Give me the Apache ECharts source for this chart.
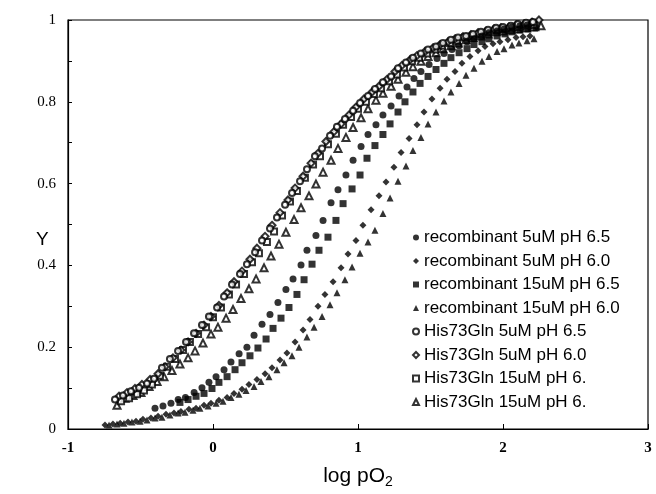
<!DOCTYPE html>
<html>
<head>
<meta charset="utf-8">
<script src="https://cdn.jsdelivr.net/npm/echarts@6/dist/echarts.min.js"></script>
<style>html,body{margin:0;padding:0;background:#fff}#c{width:656px;height:494px}</style>
</head>
<body>
<div id="c"></div>
<script>
// x: log pO2, y: Y (fractional saturation)
const xTicks = [-1, 0, 1, 2, 3];
const yTicks = [0, 0.2, 0.4, 0.6, 0.8, 1];
const seriesNames = [
  'recombinant 5uM pH 6.5',
  'recombinant 5uM pH 6.0',
  'recombinant 15uM pH 6.5',
  'recombinant 15uM pH 6.0',
  'His73Gln 5uM pH 6.5',
  'His73Gln 5uM pH 6.0',
  'His73Gln 15uM pH 6.',
  'His73Gln 15uM pH 6.'
];

const rec5_65 = [[-0.40,0.051],[-0.345,0.056],[-0.29,0.063],[-0.24,0.072],[-0.19,0.077],[-0.13,0.089],[-0.076,0.101],[-0.028,0.114],[0.021,0.128],[0.076,0.145],[0.124,0.164],[0.18,0.184],[0.234,0.200],[0.283,0.229],[0.338,0.256],[0.393,0.280],[0.448,0.309],[0.503,0.341],[0.552,0.367],[0.607,0.401],[0.648,0.437],[0.71,0.473],[0.759,0.510],[0.814,0.553],[0.862,0.585],[0.917,0.621],[0.966,0.657],[1.021,0.691],[1.069,0.720],[1.124,0.744],[1.172,0.768],[1.228,0.790],[1.283,0.814],[1.338,0.836],[1.386,0.857],[1.434,0.874],[1.49,0.891],[1.545,0.906],[1.593,0.918],[1.648,0.928],[1.697,0.937],[1.752,0.947],[1.80,0.954],[1.855,0.961],[1.903,0.969],[1.959,0.973],[2.007,0.978],[2.062,0.983],[2.117,0.986],[2.166,0.988]];

const rec5_60 = [[-0.745,0.010],[-0.69,0.012],[-0.64,0.014],[-0.586,0.017],[-0.531,0.019],[-0.483,0.024],[-0.428,0.027],[-0.379,0.031],[-0.324,0.036],[-0.269,0.039],[-0.221,0.043],[-0.166,0.048],[-0.117,0.051],[-0.062,0.058],[-0.014,0.063],[0.041,0.070],[0.097,0.077],[0.145,0.087],[0.2,0.097],[0.248,0.109],[0.303,0.121],[0.359,0.135],[0.407,0.150],[0.462,0.169],[0.510,0.186],[0.566,0.213],[0.621,0.242],[0.669,0.268],[0.724,0.300],[0.772,0.329],[0.828,0.360],[0.883,0.394],[0.931,0.428],[0.986,0.461],[1.034,0.498],[1.090,0.536],[1.145,0.570],[1.193,0.604],[1.248,0.640],[1.297,0.676],[1.352,0.710],[1.407,0.744],[1.455,0.775],[1.510,0.807],[1.566,0.833],[1.614,0.855],[1.669,0.874],[1.717,0.894],[1.772,0.911],[1.828,0.925],[1.876,0.935],[1.931,0.942],[1.979,0.947],[2.034,0.952],[2.090,0.957],[2.138,0.959],[2.186,0.961]];

const rec15_65 = [[-0.228,0.065],[-0.172,0.072],[-0.117,0.080],[-0.062,0.087],[-0.007,0.099],[0.041,0.114],[0.097,0.128],[0.152,0.145],[0.2,0.162],[0.255,0.179],[0.31,0.198],[0.366,0.220],[0.414,0.246],[0.469,0.271],[0.524,0.297],[0.579,0.329],[0.628,0.365],[0.683,0.403],[0.731,0.437],[0.793,0.469],[0.848,0.510],[0.897,0.551],[0.959,0.587],[1.014,0.621],[1.062,0.662],[1.117,0.693],[1.172,0.720],[1.221,0.746],[1.276,0.775],[1.324,0.800],[1.379,0.824],[1.428,0.845],[1.483,0.862],[1.538,0.879],[1.593,0.894],[1.641,0.908],[1.697,0.920],[1.752,0.930],[1.8,0.940],[1.855,0.947],[1.903,0.954],[1.959,0.961],[2.014,0.966],[2.062,0.971],[2.117,0.976],[2.172,0.978],[2.228,0.981]];

const rec15_60 = [[-0.717,0.010],[-0.662,0.012],[-0.614,0.014],[-0.559,0.017],[-0.503,0.019],[-0.455,0.022],[-0.4,0.027],[-0.352,0.029],[-0.297,0.034],[-0.241,0.039],[-0.193,0.041],[-0.138,0.046],[-0.09,0.051],[-0.034,0.056],[0.021,0.063],[0.069,0.068],[0.124,0.077],[0.179,0.085],[0.228,0.094],[0.283,0.104],[0.331,0.116],[0.386,0.128],[0.441,0.145],[0.490,0.162],[0.545,0.179],[0.593,0.200],[0.648,0.225],[0.697,0.249],[0.752,0.275],[0.807,0.304],[0.855,0.333],[0.910,0.365],[0.959,0.396],[1.014,0.430],[1.069,0.457],[1.117,0.486],[1.172,0.527],[1.221,0.565],[1.276,0.606],[1.331,0.643],[1.379,0.681],[1.434,0.713],[1.483,0.746],[1.538,0.775],[1.593,0.802],[1.641,0.824],[1.697,0.845],[1.745,0.865],[1.800,0.882],[1.855,0.899],[1.903,0.911],[1.959,0.923],[2.007,0.930],[2.062,0.939],[2.110,0.944],[2.166,0.949],[2.214,0.954]];

const his5_65 = [[-0.676,0.072],[-0.621,0.082],[-0.566,0.092],[-0.510,0.101],[-0.455,0.111],[-0.407,0.123],[-0.352,0.150],[-0.297,0.171],[-0.241,0.191],[-0.186,0.213],[-0.131,0.234],[-0.076,0.254],[-0.028,0.275],[0.028,0.297],[0.076,0.324],[0.131,0.353],[0.186,0.379],[0.234,0.403],[0.290,0.432],[0.338,0.461],[0.393,0.490],[0.441,0.517],[0.497,0.548],[0.545,0.577],[0.600,0.606],[0.648,0.635],[0.703,0.667],[0.752,0.686],[0.807,0.717],[0.855,0.739],[0.910,0.758],[0.966,0.778],[1.014,0.797],[1.069,0.814],[1.117,0.831],[1.172,0.848],[1.228,0.862],[1.276,0.882],[1.331,0.896],[1.379,0.908],[1.434,0.918],[1.483,0.928],[1.538,0.935],[1.586,0.944],[1.641,0.952],[1.690,0.957],[1.745,0.961],[1.793,0.966],[1.848,0.971],[1.897,0.976],[1.952,0.981],[2.000,0.983],[2.055,0.986],[2.103,0.990],[2.159,0.993],[2.207,0.995]];

const his5_60 = [[-0.648,0.080],[-0.593,0.089],[-0.538,0.099],[-0.490,0.109],[-0.434,0.121],[-0.379,0.135],[-0.331,0.152],[-0.276,0.174],[-0.221,0.193],[-0.172,0.213],[-0.117,0.234],[-0.062,0.254],[-0.014,0.275],[0.041,0.302],[0.097,0.333],[0.145,0.360],[0.200,0.386],[0.255,0.415],[0.303,0.442],[0.359,0.471],[0.407,0.498],[0.462,0.529],[0.517,0.560],[0.566,0.589],[0.621,0.618],[0.676,0.650],[0.724,0.674],[0.779,0.703],[0.834,0.727],[0.883,0.746],[0.938,0.768],[0.986,0.787],[1.041,0.807],[1.097,0.824],[1.145,0.838],[1.200,0.855],[1.255,0.874],[1.303,0.889],[1.359,0.903],[1.407,0.913],[1.462,0.923],[1.517,0.932],[1.566,0.940],[1.621,0.947],[1.669,0.954],[1.724,0.959],[1.779,0.964],[1.828,0.969],[1.883,0.973],[1.938,0.978],[1.986,0.981],[2.041,0.983],[2.090,0.988],[2.145,0.990],[2.200,0.995],[2.248,1.000]];

const his15_a = [[-0.634,0.068],[-0.579,0.075],[-0.524,0.085],[-0.476,0.094],[-0.421,0.109],[-0.366,0.130],[-0.317,0.152],[-0.262,0.171],[-0.207,0.193],[-0.159,0.213],[-0.103,0.232],[-0.048,0.249],[0.000,0.273],[0.055,0.297],[0.110,0.329],[0.159,0.353],[0.214,0.379],[0.269,0.408],[0.317,0.430],[0.372,0.457],[0.421,0.483],[0.476,0.522],[0.531,0.556],[0.579,0.582],[0.634,0.614],[0.690,0.647],[0.738,0.667],[0.793,0.696],[0.848,0.722],[0.897,0.744],[0.952,0.763],[1.000,0.783],[1.055,0.800],[1.110,0.819],[1.159,0.833],[1.214,0.850],[1.269,0.867],[1.317,0.884],[1.372,0.899],[1.421,0.908],[1.476,0.918],[1.531,0.928],[1.579,0.937],[1.634,0.944],[1.683,0.949],[1.738,0.957],[1.793,0.961],[1.841,0.966],[1.897,0.971],[1.952,0.976],[2.000,0.978],[2.055,0.981],[2.103,0.983],[2.159,0.986],[2.214,0.988]];

const his15_b = [[-0.662,0.058],[-0.607,0.075],[-0.552,0.082],[-0.497,0.089],[-0.441,0.104],[-0.386,0.116],[-0.338,0.128],[-0.283,0.143],[-0.228,0.159],[-0.172,0.174],[-0.124,0.191],[-0.069,0.210],[-0.014,0.232],[0.034,0.249],[0.090,0.271],[0.138,0.292],[0.193,0.319],[0.248,0.343],[0.297,0.367],[0.352,0.394],[0.400,0.423],[0.455,0.452],[0.503,0.481],[0.559,0.512],[0.607,0.541],[0.662,0.570],[0.710,0.599],[0.759,0.628],[0.814,0.657],[0.862,0.686],[0.917,0.713],[0.966,0.737],[1.021,0.761],[1.069,0.783],[1.124,0.804],[1.172,0.821],[1.228,0.838],[1.276,0.855],[1.331,0.872],[1.379,0.886],[1.434,0.899],[1.483,0.911],[1.538,0.920],[1.586,0.930],[1.641,0.937],[1.690,0.944],[1.745,0.952],[1.793,0.957],[1.848,0.961],[1.897,0.966],[1.952,0.971],[2.000,0.973],[2.055,0.976],[2.103,0.978],[2.159,0.981],[2.207,0.983],[2.262,0.986]];

const allData = [rec5_65, rec5_60, rec15_65, rec15_60, his5_65, his5_60, his15_a, his15_b];
const symbols = ['circle','diamond','rect','triangle','emptyCircle','emptyDiamond','emptyRect','emptyTriangle'];
const sizes = [7, 7, 7, 7, 6, 7, 6, 7];

const chart = echarts.init(document.getElementById('c'), null, {renderer: 'canvas'});
const series = allData.map((d, i) => ({
  name: seriesNames[i] + (i === 7 ? ' ' : ''),
  type: 'scatter',
  data: d,
  symbol: symbols[i],
  symbolSize: sizes[i],
  itemStyle: i < 4 ? {color: '#000'} : {color: '#000', borderColor: '#000', borderWidth: 1},
  emphasis: {disabled: true},
  z: 8 - i
}));

chart.setOption({
  animation: false,
  backgroundColor: '#fff',
  grid: {left: 68, right: 8, top: 20, bottom: 60, show: true, borderColor: '#000', borderWidth: 1.2, backgroundColor: 'transparent'},
  graphic: [{type: 'text', left: 36, top: 230, style: {text: 'Y', fill: '#000', font: '19px "Liberation Sans"'}}],
  xAxis: {
    type: 'value', min: xTicks[0], max: xTicks[xTicks.length - 1], interval: 1,
    name: '{a|log pO}{b|2}', nameLocation: 'middle', nameGap: 34,
    nameTextStyle: {rich: {
      a: {fontFamily: 'Liberation Sans', fontSize: 21, color: '#000'},
      b: {fontFamily: 'Liberation Sans', fontSize: 14, color: '#000', padding: [12, 0, 0, 0]}
    }},
    axisLine: {onZero: false, lineStyle: {color: '#000', width: 1.2}},
    axisTick: {inside: true, length: 5, lineStyle: {color: '#000'}},
    axisLabel: {color: '#000', fontFamily: 'Liberation Serif', fontSize: 15, fontWeight: 'bold', margin: 12},
    splitLine: {show: false}
  },
  yAxis: {
    type: 'value', min: 0, max: 1, interval: 0.1,
    axisLine: {onZero: false, lineStyle: {color: '#000', width: 1.2}},
    axisTick: {inside: true, length: 4, lineStyle: {color: '#000'}},
    axisLabel: {color: '#000', fontFamily: 'Liberation Serif', fontSize: 15, margin: 12,
      formatter: v => { const k = Math.round(v * 10); return yTicks.some(t => Math.round(t * 10) === k) ? String(Math.round(v * 10) / 10) : ''; }},
    splitLine: {show: false}
  },
  legend: {
    orient: 'vertical', left: 407, top: 224,
    itemWidth: 6, itemHeight: 6, itemGap: 6.5,
    textStyle: {fontFamily: 'Liberation Sans', fontSize: 17, color: '#000', lineHeight: 17},
    selectedMode: false,
    data: series.map((s, i) => ({name: s.name, icon: symbols[i],
      itemStyle: {color: '#000', borderColor: '#000', borderWidth: i < 4 ? 0 : 1}}))
  },
  series: series
});
</script>
</body>
</html>
